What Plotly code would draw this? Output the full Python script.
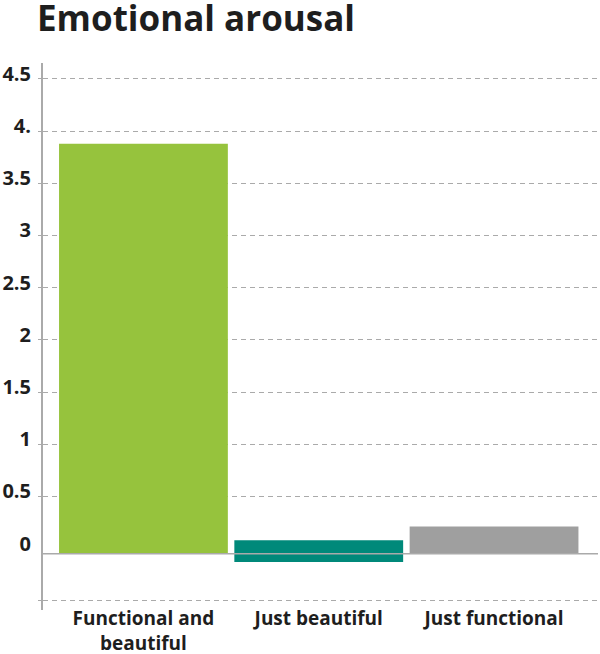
import plotly.graph_objects as go

# données
categories = ["Functional and<br>beautiful", "Just beautiful", "Just functional"]
bar_top = [3.88, 0.08, 0.21]
bar_bottom = [-0.05, -0.13, -0.05]
bar_colors = ["#96c33d", "#00897a", "#9f9f9f"]

baseline = -0.05
grid_vals = [-0.5, 0.5, 1, 1.5, 2, 2.5, 3, 3.5, 4, 4.5]
tick_vals = [0, 0.5, 1, 1.5, 2, 2.5, 3, 3.5, 4, 4.5]
tick_text = ["0", "0.5", "1", "1.5", "2", "2.5", "3", "3.5", "4.", "4.5"]

Y_RANGE = [-0.589, 4.653]
LABEL_SHIFT = 0.048  # étiquettes légèrement au-dessus des lignes

FONT = "Open Sans"
DARK = "#1e1e1e"
GRID = "#aaaaaa"

heights = [t - b for t, b in zip(bar_top, bar_bottom)]

fig = go.Figure()
fig.add_trace(
    go.Bar(
        x=categories,
        y=heights,
        base=bar_bottom,
        marker=dict(color=bar_colors, line=dict(width=0)),
        showlegend=False,
        hoverinfo="skip",
    )
)
# trace invisible pour porter l'axe des étiquettes
fig.add_trace(
    go.Scatter(x=[categories[0]], y=[0], yaxis="y2", mode="markers",
               marker=dict(opacity=0), showlegend=False, hoverinfo="skip")
)

fig.add_shape(
    type="line", xref="paper", yref="y",
    x0=0, x1=1, y0=baseline, y1=baseline,
    line=dict(color=GRID, width=1.5),
    layer="above",
)

fig.update_layout(
    width=600,
    height=654,
    margin=dict(l=43, r=2, t=63, b=44),
    paper_bgcolor="white",
    plot_bgcolor="white",
    bargap=0.037,
    title=dict(
        text="<b>Emotional arousal</b>",
        font=dict(family=FONT, size=35, color=DARK),
        xref="container", x=37 / 600, xanchor="left",
        yref="container", y=1 - 6 / 654, yanchor="top", pad=dict(t=0),
    ),
    xaxis=dict(
        range=[-0.573, 2.593],
        showgrid=False,
        showline=False,
        ticks="",
        automargin=False,
        ticklabelstandoff=-5,
        tickfont=dict(family=FONT, size=19, color=DARK, weight="bold"),
    ),
    yaxis=dict(
        range=Y_RANGE,
        tickvals=grid_vals,
        showticklabels=False,
        showgrid=True,
        gridcolor=GRID,
        gridwidth=1,
        griddash="5px,4px",
        zeroline=False,
        showline=True,
        linecolor=GRID,
        linewidth=1.5,
        ticks="outside",
        ticklen=3,
        tickcolor=GRID,
        automargin=False,
    ),
    yaxis2=dict(
        range=[Y_RANGE[0] - LABEL_SHIFT, Y_RANGE[1] - LABEL_SHIFT],
        overlaying="y",
        side="left",
        tickvals=tick_vals,
        ticktext=tick_text,
        showgrid=False,
        zeroline=False,
        showline=False,
        ticks="",
        automargin=False,
        ticklabelstandoff=11,
        tickfont=dict(family=FONT, size=20, color=DARK, weight="bold"),
    ),
)

# pas de marge par défaut autour du graphique dans la page
fig.write_html(
    "out.html",
    config={"displayModeBar": False},
    post_script="document.body.style.margin = '0';",
)
